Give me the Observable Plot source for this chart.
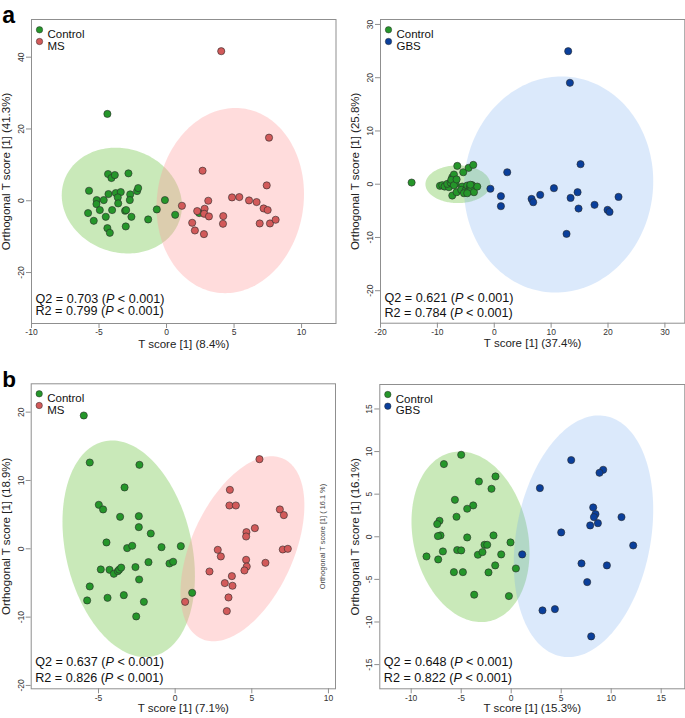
<!DOCTYPE html>
<html><head><meta charset="utf-8">
<script src="https://cdn.jsdelivr.net/npm/d3@7"></script>
<script src="https://cdn.jsdelivr.net/npm/@observablehq/plot@0.6"></script>
<style>
body{margin:0;background:#fff;}
#fig{position:relative;width:685px;height:718px;font-family:"Liberation Sans",Arial,sans-serif;overflow:hidden;}
#fig > div{position:absolute;}
svg text{white-space:pre;}
</style></head><body><div id="fig"></div>
<script>
// ---------- data (x = T score, y = orthogonal T score) ----------
const aMsCtrl = [[-4.38,24.19],[-4.33,7.44],[-4.08,6.33],[-3.83,7.16],[-2.82,7.63],[-5.74,2.79],[-5.17,0.19],[-5.19,-0.93],[-4.65,0.19],[-4.30,1.86],[-3.76,2.14],[-3.39,2.42],[-3.61,0.93],[-3.58,-0.74],[-2.69,1.77],[-2.72,0.19],[-2.18,2.70],[-2.10,3.53],[-4.94,-2.60],[-4.03,-2.60],[-3.07,-2.79],[-2.99,-2.60],[-5.81,-3.44],[-5.39,-5.58],[-4.50,-4.47],[-2.60,-4.47],[-4.38,-7.63],[-4.20,-8.93],[-3.02,-7.16],[-1.36,-5.21],[-0.72,-2.42],[-0.12,0.19],[0.64,-3.91],[2.42,-3.44]];
const aMsCase = [[4.05,41.67],[7.59,17.58],[2.67,8.37],[7.42,4.28],[1.14,-1.40],[2.27,-2.88],[2.82,-2.23],[2.79,-3.63],[3.14,-4.37],[3.09,0.0],[4.85,0.93],[5.39,1.02],[6.11,0.09],[6.67,-0.37],[7.19,-2.14],[7.49,-2.60],[4.20,-4.28],[4.18,-6.42],[1.90,-6.14],[2.10,-8.28],[2.77,-9.30],[6.90,-6.33],[7.66,-6.33],[8.08,-5.30]];
const aGbsCtrl = [[-14.53,0.31],[-6.50,3.44],[-5.45,2.25],[-4.51,3.07],[-3.69,3.63],[-9.55,-0.31],[-9.14,-0.19],[-8.73,-0.44],[-7.97,-0.56],[-8.26,0.06],[-7.67,0.31],[-7.38,1.31],[-7.09,1.82],[-7.21,0.56],[-6.80,0.06],[-7.56,0.81],[-7.09,-0.19],[-6.62,0.90],[-7.38,-2.13],[-6.62,-1.50],[-5.62,-0.44],[-5.80,-1.06],[-5.04,-1.19],[-5.33,-1.69],[-4.75,-0.25],[-4.28,-0.56],[-3.87,-0.19],[-4.45,-1.31],[-4.04,-0.94],[-3.57,-1.50],[-2.99,-0.44],[-4.75,-1.69],[-4.20,-0.10]];
const aGbsCase = [[13.00,24.98],[13.30,19.04],[15.17,3.76],[2.28,2.25],[-0.68,-0.85],[1.17,-2.25],[1.17,-4.13],[6.56,-2.76],[6.85,-3.38],[8.08,-2.00],[10.49,-0.75],[14.65,-1.50],[13.42,-2.57],[14.82,-4.57],[17.63,-3.88],[19.92,-4.82],[20.27,-5.20],[21.85,-2.38],[12.71,-9.33]];
const bMsCtrl = [[-5.96,19.51],[-5.57,12.63],[-2.33,12.29],[-3.30,8.98],[-4.98,6.44],[-4.70,5.76],[-3.59,4.68],[-2.37,4.78],[-2.37,3.17],[-1.59,2.24],[-4.48,0.93],[-3.13,0.10],[-2.80,0.44],[-0.89,0.24],[0.37,0.39],[-4.85,-3.02],[-4.28,-3.07],[-4.00,-3.66],[-3.74,-3.27],[-3.65,-3.05],[-3.52,-2.75],[-2.59,-2.68],[-1.74,-1.95],[-0.37,-2.15],[-0.13,-1.90],[-2.35,-4.49],[-5.57,-5.51],[-5.74,-7.56],[-4.41,-7.17],[-3.35,-6.78],[-2.04,-7.76],[-2.54,-9.90],[1.11,-6.44]];
const bMsCase = [[5.50,13.12],[3.57,8.63],[3.54,6.34],[3.96,6.34],[6.83,5.76],[7.09,4.93],[5.20,3.02],[4.65,2.44],[4.63,1.80],[2.78,-0.15],[2.98,-1.12],[7.02,-0.10],[7.35,0.0],[5.89,-2.05],[4.63,-1.61],[4.67,-2.59],[4.52,-3.17],[2.24,-3.32],[3.70,-4.00],[3.24,-5.02],[3.74,-5.41],[3.48,-7.12],[3.37,-9.12],[0.65,-7.76]];
const bGbsCtrl = [[-5.00,9.62],[-6.73,8.53],[-1.57,7.08],[-3.23,6.49],[-1.97,5.63],[-5.63,4.34],[-3.80,3.68],[-4.40,3.29],[-5.47,2.35],[-7.17,1.88],[-7.40,1.49],[-7.07,0.16],[-7.33,0.08],[-4.40,-0.08],[-1.77,0.16],[-0.07,-0.66],[-2.67,-0.94],[-2.40,-0.94],[-6.83,-1.72],[-5.40,-1.56],[-5.00,-1.60],[-3.33,-2.11],[-2.87,-1.80],[-1.00,-2.07],[-8.47,-2.31],[-7.30,-2.66],[-1.60,-3.36],[-5.73,-4.15],[-4.83,-4.15],[-2.27,-4.18],[0.47,-3.72],[-3.70,-6.80],[-0.23,-6.96]];
const bGbsCase = [[6.00,9.00],[9.20,7.86],[8.83,7.51],[2.87,5.71],[8.20,3.44],[8.43,2.66],[8.27,2.31],[11.03,2.31],[8.67,1.60],[7.90,1.33],[5.00,0.51],[12.20,-1.02],[1.10,-2.07],[7.03,-3.13],[9.57,-3.36],[7.60,-5.32],[3.13,-8.64],[4.37,-8.49],[8.00,-11.69]];

// confidence ellipses: [centre x, centre y, half-extent x, half-extent y, correlation]
const ellAMsCtrl  = [-3.31, 0.05, 4.45, 14.74, -0.10];
const ellAMsCase  = [4.72, 0.05, 5.46, 25.80, 0.07];
const ellAGbsCtrl = [-6.40, 0.00, 5.70, 3.54, 0.00];
const ellAGbsCase = [11.31, -0.06, 16.64, 20.29, 0.03];
const ellBMsCtrl  = [-3.03, 0.00, 4.32, 15.85, -0.25];
const ellBMsCase  = [4.39, 0.00, 4.04, 13.54, 0.47];
const ellBGbsCtrl = [-4.07, 0.00, 5.90, 10.01, -0.18];
const ellBGbsCase = [7.23, 0.06, 6.97, 14.18, 0.22];

const groupNames = ["Control", "MS", "GBS"];
const q2Values = [0.703, 0.621, 0.637, 0.648];
const r2Values = [0.799, 0.784, 0.826, 0.822];
const xTitles = ["T score [1] (8.4%)", "T score [1] (37.4%)", "T score [1] (7.1%)", "T score [1] (15.3%)"];
const yTitles = ["Orthogonal T score [1] (41.3%)", "Orthogonal T score [1] (25.8%)", "Orthogonal T score [1] (18.9%)", "Orthogonal T score [1] (16.1%)"];
const xTickSets = [[-10,-5,0,5,10], [-20,-10,0,10,20,30], [-5,0,5,10], [-10,-5,0,5,10,15]];
const yTickSets = [[-20,0,20,40], [-20,-10,0,10,20,30], [-20,-10,0,10,20], [-15,-10,-5,0,5,10,15]];
const panelLetters = ["a", "b"];
const strayLabel = "Orthogonal T score [1] ( 16.1 %)";

// ---------- styles ----------
const dotColor = {Control: "#25962a", MS: "#d25a5a", GBS: "#0a3f9b"};
const ellColor = {Control: "#77c74f", MS: "#ff9a9a", GBS: "#6fa8ee"};
const ellOpacity = {Control: 0.4, MS: 0.35, GBS: 0.25};
const FONT = "Liberation Sans";

function ellipsePath(e) {
  const [cx, cy, rx, ry, rho] = e;
  const s = Math.sqrt(1 - rho * rho);
  return d3.range(180).map(i => {
    const t = 2 * Math.PI * i / 180;
    return [cx + rx * Math.cos(t), cy + ry * (rho * Math.cos(t) + s * Math.sin(t))];
  });
}

function panel(cfg) {
  const caseName = cfg.caseName;
  const marks = [
    Plot.line(ellipsePath(cfg.ellCtrl), {x: d => d[0], y: d => d[1], curve: "linear-closed", fill: ellColor.Control, fillOpacity: ellOpacity.Control, stroke: "none"}),
    Plot.line(ellipsePath(cfg.ellCase), {x: d => d[0], y: d => d[1], curve: "linear-closed", fill: ellColor[caseName], fillOpacity: ellOpacity[caseName], stroke: "none"}),
    Plot.frame({stroke: "#8f8f8f", strokeWidth: 1}),
    Plot.dot(cfg.ctrl, {x: d => d[0], y: d => d[1], r: 3.6, fill: dotColor.Control, stroke: "#2a2a2a", strokeWidth: 0.6}),
    Plot.dot(cfg.cases, {x: d => d[0], y: d => d[1], r: 3.6, fill: dotColor[caseName], stroke: "#2a2a2a", strokeWidth: 0.6}),
    Plot.axisX({ticks: cfg.xTicks, tickSize: 5, tickPadding: cfg.xPad, fontSize: 8.5, tickFormat: d => String(d), label: null, stroke: "#8f8f8f", fill: "#333"}),
    Plot.axisY({ticks: cfg.yTicks, tickSize: 5, tickRotate: -90, tickPadding: 2.5, fontSize: 8.5, tickFormat: d => String(d), label: null, stroke: "#8f8f8f", fill: "#333"}),
    Plot.text([cfg.xTitle], {frameAnchor: "bottom", dy: cfg.xTitleDy, text: d => d, textAnchor: "middle", fontSize: 11.5, fill: "#222"}),
    Plot.text([cfg.yTitle], {frameAnchor: "left", dx: cfg.yTitleDx, rotate: -90, text: d => d, textAnchor: "middle", fontSize: 11.5, fill: "#222"}),
    // legend
    Plot.dot([0], {frameAnchor: "top-left", dx: 8, dy: cfg.legDy[0], r: 3.2, fill: dotColor.Control, stroke: "#2a2a2a", strokeWidth: 0.5}),
    Plot.text([groupNames[0]], {frameAnchor: "top-left", dx: 16, dy: cfg.legDy[0], text: d => d, textAnchor: "start", fontSize: 11.5, fill: "#111"}),
    Plot.dot([0], {frameAnchor: "top-left", dx: 8, dy: cfg.legDy[1], r: 3.2, fill: dotColor[caseName], stroke: "#2a2a2a", strokeWidth: 0.5}),
    Plot.text([caseName], {frameAnchor: "top-left", dx: 16, dy: cfg.legDy[1], text: d => d, textAnchor: "start", fontSize: 11.5, fill: "#111"}),
    // statistics
    Plot.text([`Q2 = ${cfg.q2.toFixed(3)} (P < 0.001)`], {frameAnchor: "bottom-left", dx: 4, dy: cfg.statDy[0], text: d => d, textAnchor: "start", fontSize: 12.6, fill: "#111"}),
    Plot.text([`R2 = ${cfg.r2.toFixed(3)} (P < 0.001)`], {frameAnchor: "bottom-left", dx: 4, dy: cfg.statDy[1], text: d => d, textAnchor: "start", fontSize: 12.6, fill: "#111"})
  ];
  if (cfg.letter) marks.push(Plot.text([cfg.letter], {frameAnchor: "top-left", dx: cfg.letterDx, dy: cfg.letterDy, text: d => d, textAnchor: "start", fontSize: cfg.letterSize, fontWeight: "bold", fontFamily: FONT, fill: "#000"}));
  if (cfg.extra) marks.push(cfg.extra);
  const svg = Plot.plot({
    width: cfg.width, height: cfg.height,
    marginLeft: cfg.mL, marginRight: cfg.mR, marginTop: cfg.mT, marginBottom: cfg.mB,
    x: {domain: cfg.xDomain}, y: {domain: cfg.yDomain},
    style: {fontFamily: FONT, background: "transparent", overflow: "visible"},
    marks
  });
  // italic P in the statistics lines
  svg.querySelectorAll("text").forEach(t => {
    const m = t.textContent.match(/^(.*\()P( < .*)$/);
    if (m && t.children.length === 0) {
      t.textContent = "";
      const ns = "http://www.w3.org/2000/svg";
      const a = document.createElementNS(ns, "tspan"); a.textContent = m[1];
      const p = document.createElementNS(ns, "tspan"); p.textContent = "P"; p.setAttribute("font-style", "italic");
      const b = document.createElementNS(ns, "tspan"); b.textContent = m[2];
      t.append(a, p, b);
    }
  });
  const wrap = document.createElement("div");
  wrap.style.left = cfg.left + "px"; wrap.style.top = cfg.top + "px";
  wrap.appendChild(svg);
  document.getElementById("fig").appendChild(wrap);
}

panel({left: 0, top: 0, width: 342, height: 356, mL: 31, mR: 6.5, mT: 19, mB: 33,
  xDomain: [-10, 12.55], yDomain: [-34.2, 50.5], xTicks: xTickSets[0], yTicks: yTickSets[0],
  ctrl: aMsCtrl, cases: aMsCase, caseName: groupNames[1], ellCtrl: ellAMsCtrl, ellCase: ellAMsCase,
  xTitle: xTitles[0], yTitle: yTitles[0], q2: q2Values[0], r2: r2Values[0], xPad: 0.8, xTitleDy: 24, yTitleDx: -25,
  legDy: [10.3, 22], statDy: [-21, -8.4], letter: panelLetters[0], letterDx: -29.3, letterDy: -13.1, letterSize: 23});

panel({left: 342, top: 0, width: 343, height: 356, mL: 38, mR: 0.7, mT: 19, mB: 33.3,
  xDomain: [-20, 33.5], yDomain: [-26.1, 30.93], xTicks: xTickSets[1], yTicks: yTickSets[1],
  ctrl: aGbsCtrl, cases: aGbsCase, caseName: groupNames[2], ellCtrl: ellAGbsCtrl, ellCase: ellAGbsCase,
  xTitle: xTitles[1], yTitle: yTitles[1], q2: q2Values[1], r2: r2Values[1], xPad: 0.8, xTitleDy: 24, yTitleDx: -25,
  legDy: [10.3, 22], statDy: [-21, -6]});

panel({left: 0, top: 360, width: 342, height: 358, mL: 30.7, mR: 7, mT: 23.3, mB: 29.7,
  xDomain: [-9.39, 10.46], yDomain: [-20.49, 24.15], xTicks: xTickSets[2], yTicks: yTickSets[2],
  ctrl: bMsCtrl, cases: bMsCase, caseName: groupNames[1], ellCtrl: ellBMsCtrl, ellCase: ellBMsCase,
  xTitle: xTitles[2], yTitle: yTitles[2], q2: q2Values[2], r2: r2Values[2], xPad: 0.8, xTitleDy: 23, yTitleDx: -24.7,
  legDy: [10, 21.7], statDy: [-23.3, -7.3], letter: panelLetters[1], letterDx: -29, letterDy: -13.2, letterSize: 22.5,
  extra: Plot.text([strayLabel], {frameAnchor: "right", dx: -13.3, dy: 0.2, rotate: -90, text: d => d, textAnchor: "middle", fontSize: 7.4, fill: "#444"})});

panel({left: 342, top: 360, width: 343, height: 358, mL: 37.3, mR: 0.7, mT: 24, mB: 29.7,
  xDomain: [-13.14, 17.36], yDomain: [-17.84, 17.87], xTicks: xTickSets[3], yTicks: yTickSets[3],
  ctrl: bGbsCtrl, cases: bGbsCase, caseName: groupNames[2], ellCtrl: ellBGbsCtrl, ellCase: ellBGbsCase,
  xTitle: xTitles[3], yTitle: yTitles[3], q2: q2Values[3], r2: r2Values[3], xPad: 0.8, xTitleDy: 23.2, yTitleDx: -24.3,
  legDy: [10, 21.7], statDy: [-23.3, -6.6]});
</script></body></html>
